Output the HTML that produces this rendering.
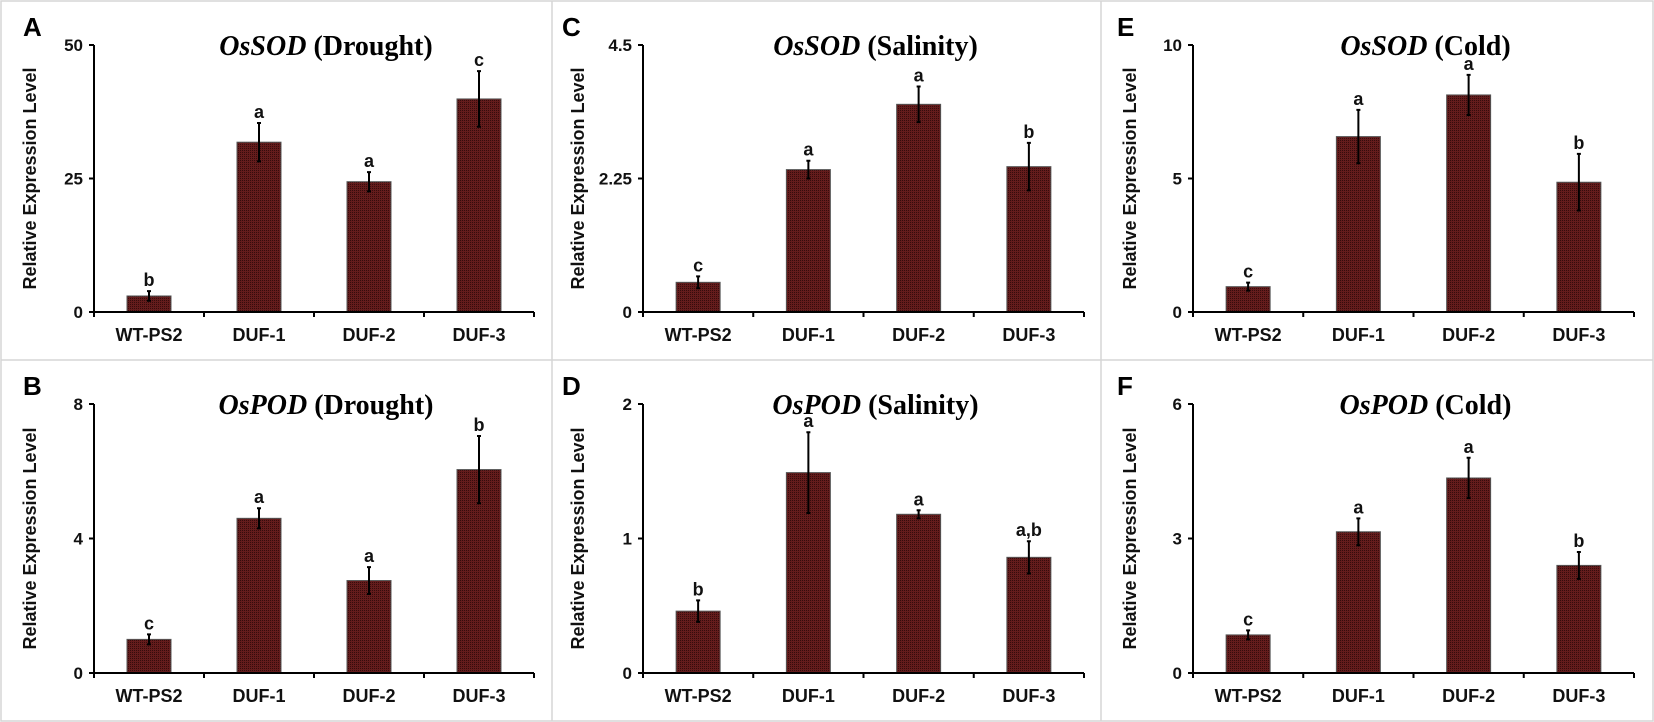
<!DOCTYPE html>
<html><head><meta charset="utf-8">
<style>
html,body{margin:0;padding:0;background:#fff;}
svg{display:block;}
.tick{font-family:"Liberation Sans",sans-serif;font-weight:bold;font-size:17px;fill:#111;}
.cat{font-family:"Liberation Sans",sans-serif;font-weight:bold;font-size:18px;fill:#111;}
.ytitle{font-family:"Liberation Sans",sans-serif;font-weight:bold;font-size:18px;fill:#111;}
.plabel{font-family:"Liberation Sans",sans-serif;font-weight:bold;font-size:26px;fill:#000;}
.title{font-family:"Liberation Serif",serif;font-weight:bold;font-size:28px;fill:#000;}
.sig{font-family:"Liberation Sans",sans-serif;font-weight:bold;font-size:18px;fill:#111;}
</style></head>
<body>
<svg id="fig" width="1654" height="722" viewBox="0 0 1654 722" xmlns="http://www.w3.org/2000/svg">
<defs>
<pattern id="stip" width="2" height="2" patternUnits="userSpaceOnUse">
<rect width="2" height="2" fill="#641c1c"/><rect width="1" height="1" fill="#360c0c"/>
</pattern>
</defs>
<rect x="1" y="1" width="1652" height="720" fill="none" stroke="#d6d6d6" stroke-width="1.5"/>
<line x1="552" y1="1" x2="552" y2="721" stroke="#d6d6d6" stroke-width="1.5"/>
<line x1="1101" y1="1" x2="1101" y2="721" stroke="#d6d6d6" stroke-width="1.5"/>
<line x1="1" y1="360" x2="1653" y2="360" stroke="#d6d6d6" stroke-width="1.5"/>
</svg>
<script>
const categories = ["WT-PS2","DUF-1","DUF-2","DUF-3"];
const valuesA = [3.0, 31.8, 24.4, 39.9];
const errorsA = [0.9, 3.6, 1.8, 5.2];
const lettersA = ["b","a","a","c"];
const ticksA = [0, 25, 50];
const tickLabelsA = ["0","25","50"];
const valuesB = [1.0, 4.6, 2.75, 6.05];
const errorsB = [0.15, 0.3, 0.4, 1.0];
const lettersB = ["c","a","a","b"];
const ticksB = [0, 4, 8];
const tickLabelsB = ["0","4","8"];
const valuesC = [0.5, 2.4, 3.5, 2.45];
const errorsC = [0.1, 0.15, 0.3, 0.4];
const lettersC = ["c","a","a","b"];
const ticksC = [0, 2.25, 4.5];
const tickLabelsC = ["0","2.25","4.5"];
const valuesD = [0.46, 1.49, 1.18, 0.86];
const errorsD = [0.08, 0.3, 0.03, 0.12];
const lettersD = ["b","a","a","a,b"];
const ticksD = [0, 1, 2];
const tickLabelsD = ["0","1","2"];
const valuesE = [0.95, 6.57, 8.13, 4.86];
const errorsE = [0.15, 1.0, 0.75, 1.06];
const lettersE = ["c","a","a","b"];
const ticksE = [0, 5, 10];
const tickLabelsE = ["0","5","10"];
const valuesF = [0.85, 3.15, 4.35, 2.4];
const errorsF = [0.1, 0.3, 0.45, 0.3];
const lettersF = ["c","a","a","b"];
const ticksF = [0, 3, 6];
const tickLabelsF = ["0","3","6"];

const svg = document.getElementById('fig');
const NS = "http://www.w3.org/2000/svg";
function mk(tag, attrs, parent){
  const e = document.createElementNS(NS, tag);
  for (const k in attrs) e.setAttribute(k, attrs[k]);
  (parent||svg).appendChild(e);
  return e;
}

const panels = [
 {id:"a", letter:"A", gene:"OsSOD", cond:" (Drought)", x0:94, x1:534, top:45, bot:312, lx:23, ytx:30, vals:valuesA, errs:errorsA, sig:lettersA, ticks:ticksA, tl:tickLabelsA},
 {id:"b", letter:"B", gene:"OsPOD", cond:" (Drought)", x0:94, x1:534, top:404, bot:673, lx:23, ytx:30, vals:valuesB, errs:errorsB, sig:lettersB, ticks:ticksB, tl:tickLabelsB},
 {id:"c", letter:"C", gene:"OsSOD", cond:" (Salinity)", x0:643, x1:1084, top:45, bot:312, lx:562, ytx:578, vals:valuesC, errs:errorsC, sig:lettersC, ticks:ticksC, tl:tickLabelsC},
 {id:"d", letter:"D", gene:"OsPOD", cond:" (Salinity)", x0:643, x1:1084, top:404, bot:673, lx:562, ytx:578, vals:valuesD, errs:errorsD, sig:lettersD, ticks:ticksD, tl:tickLabelsD},
 {id:"e", letter:"E", gene:"OsSOD", cond:" (Cold)", x0:1193, x1:1634, top:45, bot:312, lx:1117, ytx:1130, vals:valuesE, errs:errorsE, sig:lettersE, ticks:ticksE, tl:tickLabelsE},
 {id:"f", letter:"F", gene:"OsPOD", cond:" (Cold)", x0:1193, x1:1634, top:404, bot:673, lx:1117, ytx:1130, vals:valuesF, errs:errorsF, sig:lettersF, ticks:ticksF, tl:tickLabelsF}
];

panels.forEach(p => {
  const g = mk('g', {});
  
  
  const ymax = p.ticks[p.ticks.length-1];
  const y = v => p.bot - (v / ymax) * (p.bot - p.top);
  const bw = (p.x1 - p.x0) / categories.length;
  const xc = i => p.x0 + bw * (i + 0.5);

  const lt = mk('text', {x:p.lx, y:p.top - 9, class:'plabel'}, g);
  lt.textContent = p.letter;
  
  

  const tt = mk('text', {x:(p.x0+p.x1)/2 + 12, y:p.top + 10, class:'title', 'text-anchor':'middle'}, g);
  
  
  const ts1 = mk('tspan', {'font-style':'italic'}, tt); ts1.textContent = p.gene;
  const ts2 = mk('tspan', {}, tt); ts2.textContent = p.cond;

  const yt = mk('text', {x:0, y:0, class:'ytitle', 'text-anchor':'middle', transform:`translate(${p.ytx+6},${(p.top+p.bot)/2}) rotate(-90)`}, g);
  yt.textContent = 'Relative Expression Level';
  
  

  p.vals.forEach((v, i) => {
    const r = mk('rect', {x:xc(i)-22, y:y(v), width:44, height:p.bot - y(v), fill:'url(#stip)', stroke:'#555', 'stroke-width':1}, g);
    
    
    const e = p.errs[i];
    const eb = mk('path', {d:`M${xc(i)},${y(v-e)}V${y(v+e)}M${xc(i)-2},${y(v+e)}H${xc(i)+2}M${xc(i)-2},${y(v-e)}H${xc(i)+2}`, stroke:'#000', 'stroke-width':2, fill:'none'}, g);
    
    
    const s = mk('text', {x:xc(i), y:y(v+e) - 5, class:'sig', 'text-anchor':'middle'}, g);
    s.textContent = p.sig[i];
    
    
  });

  const ax = mk('path', {d:`M${p.x0},${p.top}V${p.bot}H${p.x1}`, stroke:'#000', 'stroke-width':2, fill:'none'}, g);
  
  

  p.ticks.forEach((t, i) => {
    const tk = mk('line', {x1:p.x0-5, x2:p.x0, y1:y(t), y2:y(t), stroke:'#000', 'stroke-width':2}, g);
    
    
    const tl = mk('text', {x:p.x0-11, y:y(t)+6, class:'tick', 'text-anchor':'end'}, g);
    tl.textContent = p.tl[i];
    
    
  });
  for (let i = 0; i <= categories.length; i++) {
    const xt = mk('line', {x1:p.x0 + bw*i, x2:p.x0 + bw*i, y1:p.bot, y2:p.bot+5, stroke:'#000', 'stroke-width':2}, g);
    
    
  }
  categories.forEach((c, i) => {
    const cl = mk('text', {x:xc(i), y:p.bot + 29, class:'cat', 'text-anchor':'middle'}, g);
    cl.textContent = c;
    
    
  });
});
</script>
</body></html>
